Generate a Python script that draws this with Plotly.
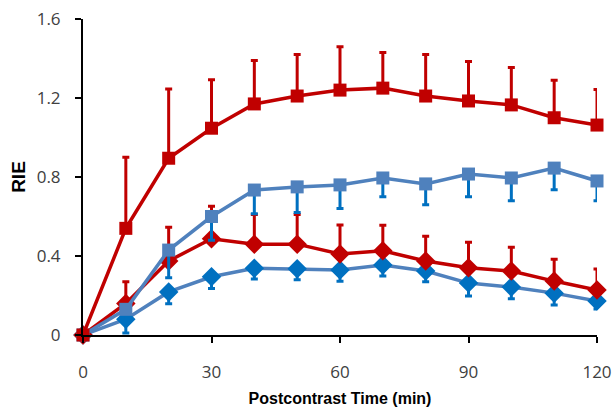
import plotly.graph_objects as go

time_min = [0, 10, 20, 30, 40, 50, 60, 70, 80, 90, 100, 110, 120]

red_sq = [0, 0.54, 0.895, 1.047, 1.17, 1.21, 1.24, 1.25, 1.21, 1.185, 1.165, 1.10, 1.063]
red_sq_err = [0, 0.36, 0.35, 0.245, 0.22, 0.21, 0.22, 0.18, 0.21, 0.20, 0.19, 0.19, 0.18]

blue_sq = [0, 0.13, 0.43, 0.60, 0.734, 0.75, 0.76, 0.795, 0.765, 0.815, 0.795, 0.845, 0.78]
blue_sq_err = [0, 0.06, 0.14, 0.12, 0.12, 0.13, 0.12, 0.095, 0.105, 0.115, 0.115, 0.11, 0.10]

red_dia = [0, 0.16, 0.375, 0.487, 0.46, 0.46, 0.41, 0.426, 0.375, 0.34, 0.324, 0.273, 0.228]
red_dia_err = [0, 0.11, 0.17, 0.165, 0.15, 0.15, 0.147, 0.13, 0.125, 0.13, 0.12, 0.11, 0.106]

blue_dia = [0, 0.08, 0.218, 0.295, 0.338, 0.335, 0.329, 0.354, 0.324, 0.263, 0.243, 0.212, 0.172]
blue_dia_err = [0, 0.07, 0.06, 0.06, 0.055, 0.055, 0.057, 0.055, 0.055, 0.065, 0.06, 0.06, 0.04]

x_ticks = [0, 30, 60, 90, 120]
y_ticks = [0, 0.4, 0.8, 1.2, 1.6]
y_tick_text = ["0", "0.4", "0.8", "1.2", "1.6"]

RED = "#C00000"
BLUE_L = "#4F81BD"
BLUE_E = "#0070C0"

fig = go.Figure()
zeros = [0] * len(time_min)

def add(y, err, up, line_col, mk_col, err_col, symbol, size):
    fig.add_trace(go.Scatter(
        x=time_min, y=y, mode="lines+markers",
        line=dict(color=line_col, width=3.5),
        marker=dict(symbol=symbol, size=size, color=mk_col),
        error_y=dict(type="data", symmetric=False,
                     array=err if up else zeros,
                     arrayminus=zeros if up else err,
                     color=err_col, thickness=3, width=3.5),
        showlegend=False, cliponaxis=False))

add(blue_dia, blue_dia_err, False, BLUE_L, BLUE_E, BLUE_E, "diamond", 15)
add(red_dia, red_dia_err, True, RED, RED, RED, "diamond", 15)
add(blue_sq, blue_sq_err, False, BLUE_L, BLUE_L, BLUE_E, "square", 13)
add(red_sq, red_sq_err, True, RED, RED, RED, "square", 13)

fig.update_layout(
    width=616, height=410,
    margin=dict(l=83, r=19, t=19, b=75),
    paper_bgcolor="white", plot_bgcolor="white",
    font=dict(family="Open Sans, Liberation Sans, sans-serif", color="#404040"),
    xaxis=dict(range=[0, 120], tickvals=x_ticks, showgrid=False, zeroline=False,
               automargin=False,
               showline=True, linecolor="black", linewidth=2,
               ticks="outside", ticklen=6, tickwidth=2, tickcolor="black",
               ticklabelstandoff=15,
               tickfont=dict(size=17, color="#404040"),
               title=dict(text="<b>Postcontrast Time (min)</b>", standoff=10,
                          font=dict(family="Liberation Sans, Arial", size=16, color="black"))),
    yaxis=dict(range=[0, 1.6], tickvals=y_ticks, ticktext=y_tick_text,
               showgrid=False, zeroline=False,
               automargin=False,
               showline=True, linecolor="black", linewidth=2,
               ticks="outside", ticklen=6, tickwidth=2, tickcolor="black",
               ticklabelstandoff=11,
               tickfont=dict(size=17, color="#404040"),
               title=dict(text="<b>RIE</b>", standoff=6,
                          font=dict(family="Liberation Sans, Arial", size=19, color="black"))),
)

fig.write_html("out.html")
